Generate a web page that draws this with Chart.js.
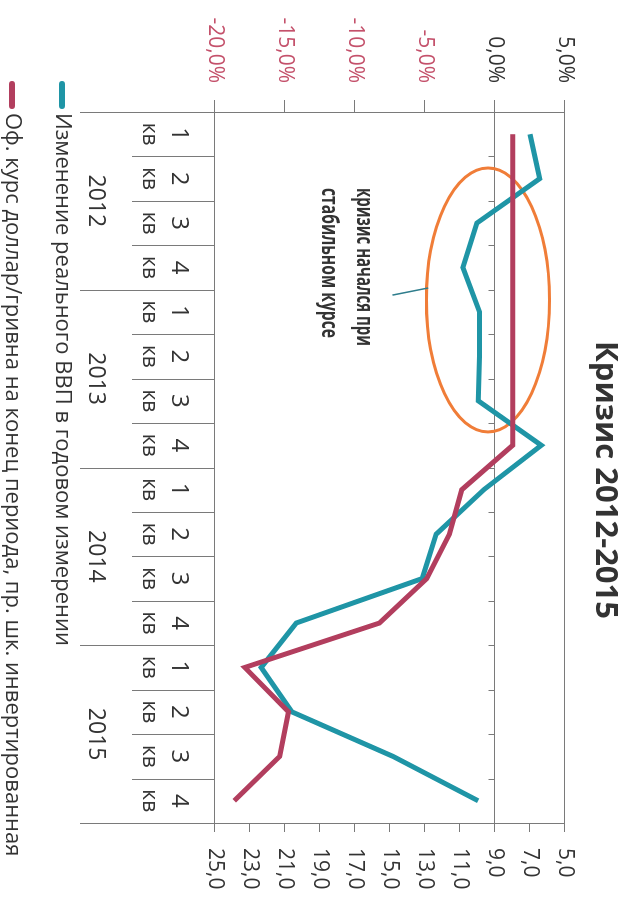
<!DOCTYPE html>
<html lang="ru">
<head>
<meta charset="utf-8">
<title>Кризис 2012-2015</title>
<script src="https://cdn.jsdelivr.net/npm/chart.js@4.4.1/dist/chart.umd.min.js"></script>
<style>
  html, body { margin: 0; padding: 0; background: #fff; overflow: hidden; }
  /* chart is laid out landscape and turned a quarter clockwise */
  #wrap { position: absolute; left: 630px; top: 0; width: 899px; height: 630px;
          transform-origin: 0 0; transform: rotate(90deg); }
</style>
</head>
<body>
<div id="wrap"><canvas id="chart" width="899" height="630"></canvas></div>
<script>
const years = ['2012', '2013', '2014', '2015'];
const quarters = ['1', '2', '3', '4'];
// real GDP, % y/y
const gdpChange = [2.5, 3.2, -1.3, -2.3, -1.1, -1.1, -1.2, 3.3, -0.8, -4.2, -5.2, -14.2, -16.7, -14.5, -7.3, -1.2];
// official USD/UAH rate at period end
const usdUah = [7.99, 7.99, 7.99, 7.99, 7.99, 7.99, 7.99, 7.99, 10.9, 11.6, 12.9, 15.6, 23.3, 20.8, 21.3, 23.9];
const gdpTicks = [-20, -15, -10, -5, 0, 5];
const rateTicks = [5, 7, 9, 11, 13, 15, 17, 19, 21, 23, 25];

const labels = years.flatMap(y => quarters.map(q => q + ' кв ' + y));

const TEAL = '#1f95a6';
const WINE = '#b23e5e';
const PINK = '#c4516b';
const DARK = '#333333';
const LINE = '#7a7a7a';
const FONT = "'Open Sans', sans-serif";

const comma = v => v.toFixed(1).replace('.', ',');

// squeeze text horizontally into a given width
function fitText(ctx, text, x, y, w) {
  const m = ctx.measureText(text).width;
  ctx.save();
  ctx.translate(x, y);
  ctx.scale(Math.min(1, w / m), 1);
  ctx.fillText(text, 0, 0);
  ctx.restore();
}

const decor = {
  id: 'decor',
  beforeDatasetsDraw(chart) {
    const { ctx, chartArea: a, scales } = chart;
    const xs = scales.x, yl = scales.y;
    const n = labels.length;
    const edge = i => i === 0 ? a.left : i === n ? a.right
      : (xs.getPixelForValue(i - 1) + xs.getPixelForValue(i)) / 2;

    ctx.save();
    ctx.strokeStyle = LINE;
    ctx.lineWidth = 1;
    ctx.strokeRect(a.left + 0.5, a.top + 0.5, a.right - a.left, a.bottom - a.top);

    // zero line with quarter ticks
    const y0 = Math.round(yl.getPixelForValue(0)) + 0.5;
    ctx.beginPath();
    ctx.moveTo(a.left, y0);
    ctx.lineTo(a.right, y0);
    for (let i = 1; i < n; i++) {
      const x = Math.round(edge(i)) + 0.5;
      ctx.moveTo(x, y0);
      ctx.lineTo(x, y0 + 6);
    }
    // table under the plot
    for (let i = 0; i <= n; i++) {
      const x = Math.round(edge(i)) + 0.5;
      ctx.moveTo(x, a.bottom);
      ctx.lineTo(x, i % 4 === 0 ? a.bottom + 135 : a.bottom + 83);
    }
    ctx.stroke();

    ctx.fillStyle = DARK;
    ctx.textAlign = 'center';
    ctx.textBaseline = 'middle';
    for (let i = 0; i < n; i++) {
      const x = xs.getPixelForValue(i);
      ctx.font = '24px ' + FONT;
      ctx.fillText(quarters[i % 4], x, a.bottom + 36);
      ctx.font = '21px ' + FONT;
      ctx.fillText('кв', x, a.bottom + 66);
    }
    ctx.font = '23px ' + FONT;
    years.forEach((yr, k) => {
      ctx.fillText(yr, (edge(k * 4) + edge(k * 4 + 4)) / 2, a.bottom + 119);
    });

    // legend
    chart.data.datasets.forEach((ds, k) => {
      const y = k === 0 ? 568 : 618;
      ctx.strokeStyle = ds.borderColor;
      ctx.lineWidth = 6;
      ctx.lineCap = 'round';
      ctx.beginPath();
      ctx.moveTo(84, y);
      ctx.lineTo(106, y);
      ctx.stroke();
      ctx.fillStyle = DARK;
      ctx.textAlign = 'left';
      ctx.font = '22px ' + FONT;
      ctx.fillText(ds.label, 113, y);
    });

    // title
    ctx.font = 'bold 31px ' + FONT;
    ctx.textAlign = 'center';
    ctx.fillStyle = DARK;
    ctx.fillText('Кризис 2012-2015', 480, 25);

    // callout ring around the flat-rate period
    const cx = xs.getPixelForValue(3.73), cy = yl.getPixelForValue(-0.5);
    const rx = xs.getPixelForValue(3.73 + 2.97) - cx;
    const ry = yl.getPixelForValue(-0.5 - 4.4) - cy;
    ctx.strokeStyle = '#f07d38';
    ctx.lineWidth = 3;
    ctx.beginPath();
    ctx.ellipse(cx, cy, rx, ry, 0, 0, Math.PI * 2);
    ctx.stroke();

    ctx.strokeStyle = '#2e7d8c';
    ctx.lineWidth = 1.5;
    ctx.beginPath();
    ctx.moveTo(295, 237);
    ctx.lineTo(cx - rx * 0.09, cy + ry * 0.98);
    ctx.stroke();

    ctx.fillStyle = DARK;
    ctx.textAlign = 'left';
    ctx.font = 'bold 23px ' + FONT;
    fitText(ctx, 'кризис начался при', 188, 266, 158);
    fitText(ctx, 'стабильном курсе', 188, 301, 150);
    ctx.restore();
  }
};

new Chart(document.getElementById('chart'), {
  type: 'line',
  data: {
    labels,
    datasets: [
      { label: 'Изменение реального ВВП в годовом измерении', data: gdpChange, yAxisID: 'y',
        borderColor: TEAL, borderWidth: 5, pointRadius: 0, tension: 0, order: 1 },
      { label: 'Оф. курс доллар/гривна на конец периода, пр. шк. инвертированная', data: usdUah, yAxisID: 'y1',
        borderColor: WINE, borderWidth: 5, pointRadius: 0, tension: 0, order: 0 }
    ]
  },
  options: {
    responsive: false,
    animation: false,
    layout: { padding: { top: 65, bottom: 215 } },
    plugins: { legend: { display: false }, tooltip: { enabled: false }, title: { display: false } },
    scales: {
      x: { display: false, offset: true },
      y: {
        position: 'left', min: -20, max: 5,
        afterFit: s => { s.width = 112; },
        afterBuildTicks: s => { s.ticks = gdpTicks.map(v => ({ value: v })); },
        ticks: {
          callback: v => comma(v) + '%',
          color: c => c.tick.value < 0 ? PINK : DARK,
          font: { family: FONT, size: 21 }, padding: 17
        },
        grid: { drawOnChartArea: false, tickLength: 12, color: LINE },
        border: { display: false }
      },
      y1: {
        position: 'right', reverse: true, min: 5, max: 25,
        afterFit: s => { s.width = 76; },
        afterBuildTicks: s => { s.ticks = rateTicks.map(v => ({ value: v })); },
        ticks: {
          callback: v => comma(v),
          color: DARK,
          font: { family: FONT, size: 21 }, padding: 16
        },
        grid: { drawOnChartArea: false, tickLength: 9, color: LINE },
        border: { display: false }
      }
    }
  },
  plugins: [decor]
});
</script>
</body>
</html>
